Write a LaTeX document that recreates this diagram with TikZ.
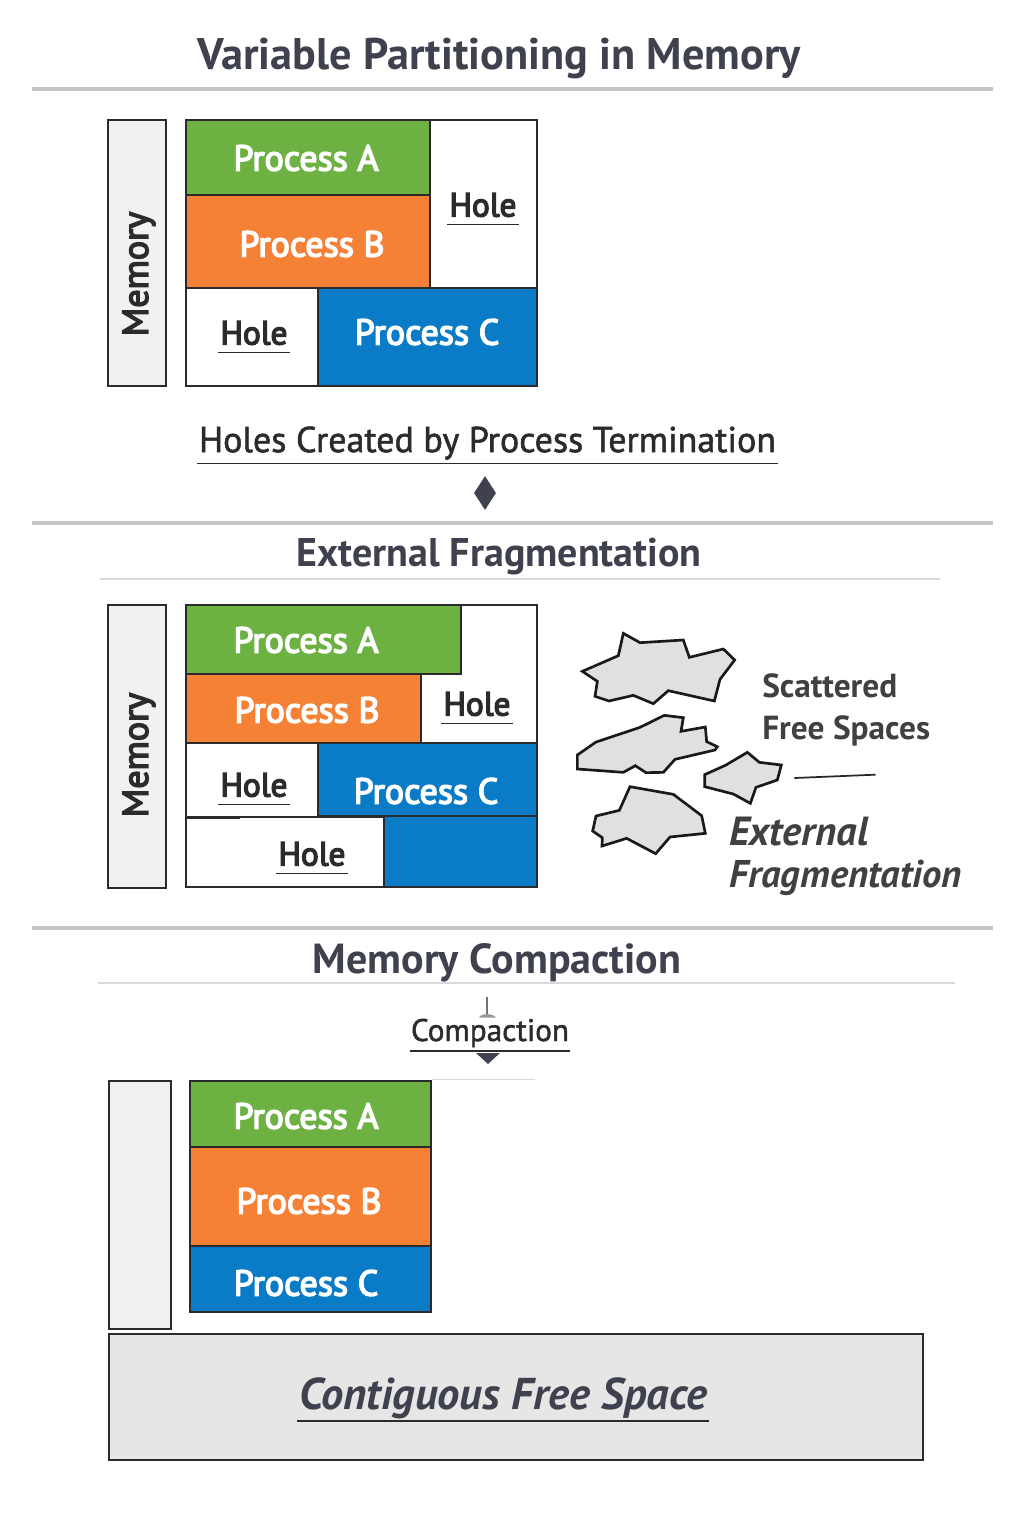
\documentclass[tikz,border=0pt]{standalone}
\usepackage{fontspec}
\setmainfont{PT Sans}
\usetikzlibrary{calc,shapes.geometric}
\definecolor{ink}{HTML}{2B2B2B}
\definecolor{heading}{HTML}{3F424E}
\definecolor{rulegrey}{HTML}{C4C5C8}
\definecolor{thinrule}{HTML}{D8D9DB}
\definecolor{panel}{HTML}{F1F1F1}
\definecolor{blobfill}{HTML}{DFE0E0}
\definecolor{freefill}{HTML}{E6E6E6}
\definecolor{procA}{HTML}{6DB143}
\definecolor{procB}{HTML}{F48135}
\definecolor{procC}{HTML}{0A7BC6}
\newfontfamily\midface[FakeBold=4]{PT Sans}
\newfontfamily\softface[FakeBold=1.5]{PT Sans}
\tikzset{
  x=0.75pt, y=-0.75pt,
  titletext/.style={font=\fontsize{33.2}{38}\selectfont\bfseries, text=heading},
  headtext/.style={font=\fontsize{30}{36}\selectfont\bfseries, text=heading},
  captiontext/.style={font=\softface\fontsize{27}{30}\selectfont, text=ink, inner xsep=1pt, inner ysep=2.5pt},
  proclabel/.style={font=\midface\fontsize{27}{30}\selectfont, text=white},
  holelabel/.style={font=\midface\fontsize{25}{30}\selectfont, text=ink, inner xsep=1.5pt, inner ysep=5.5pt},
  memlabel/.style={font=\midface\fontsize{27}{30}\selectfont, text=ink, rotate=90},
  notetext/.style={font=\fontsize{25}{30}\selectfont\bfseries, text=ink!90!white, anchor=west, inner sep=0pt},
  noteital/.style={font=\fontsize{29}{32}\selectfont\bfseries\itshape, text=ink!90!white, anchor=west, inner sep=0pt},
  toprule/.style={draw=rulegrey, line width=2.3pt},
  subrule/.style={draw=thinrule, line width=1.4pt},
  underl/.style={draw=ink, line width=0.9pt},
  blob/.style={draw=black!90, fill=blobfill, line width=2pt, line join=miter},
}
% A rectangular memory block given by its pixel corners
\newcommand{\memblock}[6]{%
  \node[draw=ink, line width=1.5pt, fill=#6, inner sep=0pt,
        minimum width={(#4-#2)*0.75pt}, minimum height={(#5-#3)*0.75pt}]
        (#1) at ({(#2+#4)/2},{(#3+#5)/2}) {};}
% An underlined hole label
\newcommand{\holetag}[3]{%
  \node[holelabel] (#1) at (#2,#3) {Hole};
  \draw[underl] (#1.south west) -- (#1.south east);}
\begin{document}
\begin{tikzpicture}
\useasboundingbox (0,0) rectangle (1024,1536);
\fill[white] (0,0) rectangle (1024,1536);

% Section one: partitions with holes
\node[titletext] (title) at (499,58) {Variable Partitioning in Memory};
\coordinate (r1a) at (32,89); \coordinate (r1b) at (993,89);
\draw[toprule] (r1a) -- (r1b);

\memblock{mema}{108}{120}{166}{386}{panel}
\node[memlabel] (memalabel) at (139,274) {Memory};
\memblock{a1}{186}{120}{430}{195}{procA}
\memblock{b1}{186}{195}{430}{288}{procB}
\memblock{h1}{430}{120}{537}{288}{white}
\memblock{h2}{186}{288}{318}{386}{white}
\memblock{c1}{318}{288}{537}{386}{procC}
\node[proclabel] (a1t) at (306,158) {Process A};
\node[proclabel] (b1t) at (312,244) {Process B};
\node[proclabel] (c1t) at (427,332) {Process C};
\holetag{h1t}{483}{205}
\holetag{h2t}{254}{333}

\node[captiontext] (holes) at (487.5,443) {Holes Created by Process Termination};
\draw[underl] (holes.south west) -- (holes.south east);
\node[draw=none, fill=heading, diamond, inner sep=0pt, minimum width=22pt*0.75, minimum height=34pt*0.75] (dia) at (485,493) {};

% Section two: external fragmentation
\coordinate (r2a) at (32,523); \coordinate (r2b) at (993,523);
\draw[toprule] (r2a) -- (r2b);
\node[headtext] (exthead) at (499,557) {External Fragmentation};
\coordinate (s2a) at (100,579); \coordinate (s2b) at (940,579);
\draw[subrule] (s2a) -- (s2b);

\memblock{memb}{108}{605}{166}{888}{panel}
\node[memlabel] (memblabel) at (139,755) {Memory};
\memblock{frame}{186}{605}{537}{887}{white}
\memblock{a2}{186}{605}{461}{674}{procA}
\memblock{b2}{186}{674}{421}{743}{procB}
\memblock{h4}{186}{743}{318}{817}{white}
\memblock{c2}{318}{743}{537}{816}{procC}
\memblock{c3}{384}{816}{537}{887}{procC}
\memblock{h5}{186}{817}{384}{887}{white}
\coordinate (nicka) at (187,818); \coordinate (nickb) at (240,818);
\draw[ink, line width=1.5pt] (nicka) -- (nickb);
\node[proclabel] (a2t) at (306,640) {Process A};
\node[proclabel] (b2t) at (307,710) {Process B};
\node[proclabel] (c2t) at (426,791) {Process C};
\holetag{h3t}{477}{704}
\holetag{h4t}{254}{785}
\holetag{h5t}{312}{854}

% Scattered free regions
\begin{scope}[shift={(560,610)}, x=0.25pt, y=-0.25pt]
  \draw[blob] (190,70)--(240,98)--(370,90)--(388,142)--(490,117)--(524,150)--(480,208)--(463,273)--(325,242)--(280,281)--(220,256)--(147,273)--(105,259)--(112,214)--(67,184)--(175,137)--cycle;
  \draw[blob] (52,435)--(108,396)--(240,352)--(313,316)--(370,323)--(363,364)--(436,351)--(440,395)--(472,410)--(465,420)--(345,448)--(310,487)--(258,488)--(226,467)--(190,487)--(52,477)--cycle;
  \draw[blob] (434,494)--(498,465)--(562,427)--(598,457)--(664,465)--(652,510)--(588,532)--(571,580)--(520,552)--(434,530)--cycle;
  \draw[blob] (210,530)--(340,553)--(425,617)--(436,670)--(330,681)--(287,731)--(200,685)--(126,708)--(127,683)--(98,663)--(108,618)--(178,601)--cycle;
  \coordinate (notea) at (703,504); \coordinate (noteb) at (947,494);
  \draw[black!85, line width=1.3pt] (notea) -- (noteb);
\end{scope}
\node[notetext] (sc1) at (762,686) {Scattered};
\node[notetext] (sc2) at (762,731) {Free Spaces};
\node[noteital, font=\fontsize{30.5}{32}\selectfont\bfseries\itshape] (ef1) at (729,832) {External};
\node[noteital] (ef2) at (729,878) {Fragmentation};

% Section three: compaction
\coordinate (r3a) at (32,928); \coordinate (r3b) at (993,928);
\draw[toprule] (r3a) -- (r3b);
\node[headtext, font=\fontsize{31.5}{36}\selectfont\bfseries] (comphead) at (497,963) {Memory Compaction};
\coordinate (s3a) at (98,983); \coordinate (s3b) at (955,983);
\draw[subrule] (s3a) -- (s3b);

\node[captiontext, font=\softface\fontsize{23.4}{28}\selectfont, inner ysep=4pt] (comp) at (490,1033) {Compaction};
\coordinate (ula) at (410,1051); \coordinate (ulb) at (570,1051);
\draw[underl] (ula) -- (ulb);
\coordinate (ticktop) at (487,997); \coordinate (tickbase) at (487,1016);
\draw[black!55, line width=0.9pt] (ticktop) -- (tickbase);
\fill[black!40] (479,1017.5) .. controls (481,1013) and (493,1013) .. (496,1017.5) -- cycle;
\fill[heading] (476,1053) -- (500,1053) -- (488,1064) -- cycle;
\coordinate (fa) at (432,1079); \coordinate (fb) at (535,1079);
\draw[thinrule, line width=0.7pt] (fa) -- (fb);

\memblock{memc}{109}{1081}{171}{1329}{panel}
\memblock{a3}{190}{1081}{431}{1147}{procA}
\memblock{b3}{190}{1147}{431}{1246}{procB}
\memblock{c4}{190}{1246}{431}{1312}{procC}
\node[proclabel] (a3t) at (306,1116) {Process A};
\node[proclabel] (b3t) at (309,1201) {Process B};
\node[proclabel] (c3t) at (306,1283) {Process C};

\memblock{free}{109}{1334}{923}{1460}{freefill}
\node[font=\fontsize{33.4}{38}\selectfont\bfseries\itshape, text=heading, inner xsep=1pt, inner ysep=1.5pt] (freet) at (503,1398) {Contiguous Free Space};
\draw[underl] (freet.south west) -- (freet.south east);
\end{tikzpicture}
\end{document}
